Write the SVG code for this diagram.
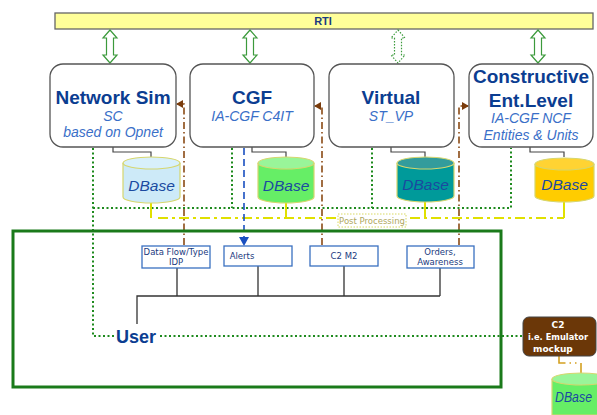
<svg xmlns="http://www.w3.org/2000/svg" width="597" height="415" viewBox="0 0 597 415">
<defs>
<style>
.box{fill:#fff;stroke:#555;stroke-width:1.3}
.title{font-family:"Liberation Sans",Arial,sans-serif;font-weight:bold;font-size:19px;fill:#0b3d91;text-anchor:middle}
.sub{font-family:"Liberation Sans",Arial,sans-serif;font-style:italic;font-size:14px;fill:#3a6fc8;text-anchor:middle}
.hla{fill:#fff;stroke:#3c9a3c;stroke-width:1.2}
.db{stroke:#d6d66e;stroke-width:1.2}
.dbt{font-family:"Liberation Sans",Arial,sans-serif;font-style:italic;font-size:15.5px;fill:#1a4aa0;text-anchor:middle}
.link{fill:none;stroke:#444;stroke-width:1.2}
.gdot{fill:none;stroke:#1e8a1e;stroke-width:2;stroke-dasharray:2 2.5}
.ysolid{fill:none;stroke:#e0e000;stroke-width:2}
.ydash{fill:none;stroke:#e0e000;stroke-width:2;stroke-dasharray:10 4 3 4}
.brown{fill:none;stroke:#8a4a14;stroke-width:1.6;stroke-dasharray:7 3 1.5 3}
.sbox{fill:#fff;stroke:#3a70c0;stroke-width:1.3}
.stext{font-family:"DejaVu Sans",Verdana,sans-serif;font-size:8.5px;fill:#1a3a80;text-anchor:middle}
.tree{fill:none;stroke:#333;stroke-width:1.3}
</style>
<marker id="brArrow" markerWidth="8" markerHeight="8" refX="6" refY="4" orient="auto" markerUnits="userSpaceOnUse">
<path d="M0,0 L7,4 L0,8 Z" fill="#7a3c0c"/>
</marker>
<marker id="blArrow" markerWidth="10" markerHeight="10" refX="8" refY="5" orient="auto" markerUnits="userSpaceOnUse">
<path d="M0,0 L9,5 L0,10 Z" fill="#1a4fc0"/>
</marker>
</defs>

<g id="rti">
<rect x="55" y="13" width="538" height="16" fill="#ffff99" stroke="#666" stroke-width="1.3"/>
<text x="323" y="25" font-family="Liberation Sans,Arial,sans-serif" font-weight="bold" font-size="11" fill="#1a3a80" text-anchor="middle">RTI</text>
</g>

<g id="rti-arrows">
<polygon class="hla" points="110,30 117,38 113.5,38 113.5,55 117,55 110,63 103,55 106.5,55 106.5,38 103,38"/>
<polygon class="hla" points="250,30 257,38 253.5,38 253.5,55 257,55 250,63 243,55 246.5,55 246.5,38 243,38"/>
<polygon class="hla" points="398,30 405,38 401.5,38 401.5,55 405,55 398,63 391,55 394.5,55 394.5,38 391,38" stroke-dasharray="1.5 1.5" stroke-width="1.6"/>
<polygon class="hla" points="538,30 545,38 541.5,38 541.5,55 545,55 538,63 531,55 534.5,55 534.5,38 531,38"/>
</g>

<g id="connectors">
<path class="gdot" d="M93,148 V336 H114"/>
<path class="gdot" d="M160,336 H523"/>
<path class="gdot" d="M93,208 H511 V148"/>
<path class="gdot" d="M232,148 V208"/>
<path class="gdot" d="M372,148 V208"/>
<path class="ysolid" d="M151,203 V218"/>
<path class="ydash" d="M158,218 H564"/>
<path class="ysolid" d="M286,203 V218 M425,202 V218 M564,202 V218"/>
<path class="link" d="M113,147 V152 H151 V157"/>
<path class="link" d="M252,147 V152 H286 V157"/>
<path class="link" d="M391,147 V152 H425 V157"/>
<path class="link" d="M530,147 V152 H564 V157"/>
<path class="brown" d="M184,245 V104 H177" marker-end="url(#brArrow)"/>
<path class="brown" d="M322,245 V106 H315" marker-end="url(#brArrow)"/>
<path class="brown" d="M459,245 V106 H468" marker-end="url(#brArrow)"/>
<path fill="none" stroke="#1a4fc0" stroke-width="1.6" stroke-dasharray="7 4" d="M244,148 V245" marker-end="url(#blArrow)"/>
<path class="tree" d="M177,268 V296 M258,266 V296 M344,266 V296 M440,268 V296 M137,324 V296 H440"/>
<path fill="none" stroke="#d4a020" stroke-width="1.6" d="M559,356 V363 H564"/>
<path fill="none" stroke="#d4a020" stroke-width="1.6" stroke-dasharray="1.5 4" d="M564,363 H578"/>
<path fill="none" stroke="#d4a020" stroke-width="1.6" d="M581,363 V373"/>
</g>

<g id="user-area">
<rect x="13" y="231" width="488" height="156" fill="none" stroke="#1a7a1a" stroke-width="3"/>
<text x="136" y="343" font-family="Liberation Sans,Arial,sans-serif" font-weight="bold" font-size="18" fill="#0b3d91" text-anchor="middle">User</text>
</g>

<g id="network-sim">
<rect class="box" x="50" y="64" width="126" height="83" rx="13"/>
<text class="title" x="113" y="104">Network Sim</text>
<text class="sub" x="113" y="121">SC</text>
<text class="sub" x="113" y="137">based on Opnet</text>
</g>
<g id="cgf">
<rect class="box" x="190" y="64" width="124" height="83" rx="13"/>
<text class="title" x="252" y="104">CGF</text>
<text class="sub" x="252" y="121">IA-CGF C4IT</text>
</g>
<g id="virtual">
<rect class="box" x="329" y="64" width="125" height="83" rx="13"/>
<text class="title" x="391" y="104">Virtual</text>
<text class="sub" x="391" y="121">ST_VP</text>
</g>
<g id="constructive">
<rect class="box" x="469" y="64" width="124" height="83" rx="13"/>
<text class="title" x="531" y="83">Constructive</text>
<text class="title" x="531" y="107">Ent.Level</text>
<text class="sub" x="531" y="123">IA-CGF NCF</text>
<text class="sub" x="531" y="140">Entities &amp; Units</text>
</g>

<g id="dbase-1">
<path class="db" fill="#cdeaf8" d="M123,163 V197 A28.5,6 0 0 0 180,197 V163"/>
<ellipse class="db" cx="151.5" cy="163" rx="28.5" ry="6" fill="#d8f0fb"/>
<text class="dbt" x="151.5" y="191">DBase</text>
</g>
<g id="dbase-2">
<path class="db" fill="#66ee66" d="M258,163 V197 A28,6 0 0 0 314,197 V163"/>
<ellipse class="db" cx="286" cy="163" rx="28" ry="6" fill="#99f599"/>
<text class="dbt" x="286" y="191">DBase</text>
</g>
<g id="dbase-3">
<path class="db" fill="#009a9a" d="M397,163 V196 A28.5,6 0 0 0 454,196 V163"/>
<ellipse class="db" cx="425.5" cy="163" rx="28.5" ry="6" fill="#339c9c"/>
<text class="dbt" x="425.5" y="190">DBase</text>
</g>
<g id="dbase-4">
<path class="db" fill="#ffcc00" d="M535,164 V196 A29.5,6 0 0 0 594,196 V164"/>
<ellipse class="db" cx="564.5" cy="164" rx="29.5" ry="6" fill="#ffd333"/>
<text class="dbt" x="564.5" y="190">DBase</text>
</g>

<g id="post-processing">
<rect x="338" y="214" width="68" height="13" fill="#fff" stroke="#d8d860" stroke-width="1" stroke-dasharray="1.5 1.5"/>
<text x="372" y="224" font-family="DejaVu Sans,Verdana,sans-serif" font-size="8.5" fill="#b0a860" text-anchor="middle">Post Processing</text>
</g>

<g id="data-flow">
<rect class="sbox" x="142" y="246" width="68" height="22"/>
<text class="stext" x="176" y="255">Data Flow/Type</text>
<text class="stext" x="176" y="265">IDP</text>
</g>
<g id="alerts">
<rect class="sbox" x="224" y="246" width="68" height="20"/>
<text class="stext" x="242" y="259">Alerts</text>
</g>
<g id="c2m2">
<rect class="sbox" x="310" y="246" width="68" height="20"/>
<text class="stext" x="344" y="259">C2 M2</text>
</g>
<g id="orders">
<rect class="sbox" x="407" y="246" width="67" height="22"/>
<text class="stext" x="440" y="255">Orders,</text>
<text class="stext" x="440" y="265">Awareness</text>
</g>

<g id="c2">
<rect x="523" y="317" width="73" height="39" rx="6" fill="#6b3708" stroke="#444" stroke-width="1"/>
<g font-family="DejaVu Sans,Verdana,sans-serif" font-weight="bold" font-size="9" fill="#fff">
<text x="558" y="328" text-anchor="middle">C2</text>
<text x="528" y="340" textLength="60" lengthAdjust="spacingAndGlyphs">i.e. Emulator</text>
<text x="533" y="352">mockup</text>
</g>
</g>
<g id="dbase-5">
<path class="db" fill="#66ee66" d="M552,379 V415 H610 V379"/>
<ellipse class="db" cx="581" cy="379" rx="29" ry="6" fill="#99f599"/>
<text font-family="Liberation Sans,Arial,sans-serif" font-style="italic" font-size="14.5" fill="#1a4aa0" x="555" y="402" textLength="37" lengthAdjust="spacingAndGlyphs">DBase</text>
</g>
</svg>
